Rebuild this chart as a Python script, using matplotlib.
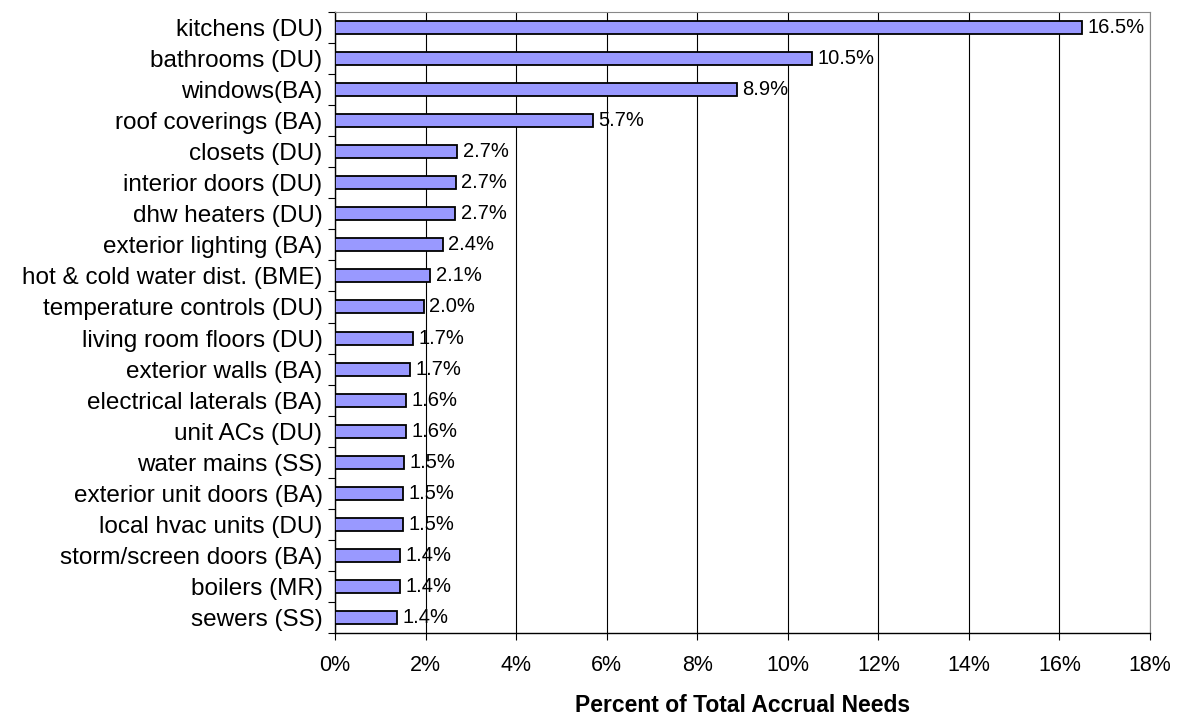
import numpy as np
import matplotlib.pyplot as plt
from matplotlib.ticker import FixedLocator, PercentFormatter

plt.rcParams['font.family'] = ['Liberation Sans', 'DejaVu Sans']

# datos (porcentaje de necesidades)
categorias = ['kitchens (DU)', 'bathrooms (DU)', 'windows(BA)', 'roof coverings (BA)',
              'closets (DU)', 'interior doors (DU)', 'dhw heaters (DU)',
              'exterior lighting (BA)', 'hot & cold water dist. (BME)',
              'temperature controls (DU)', 'living room floors (DU)',
              'exterior walls (BA)', 'electrical laterals (BA)', 'unit ACs (DU)',
              'water mains (SS)', 'exterior unit doors (BA)', 'local hvac units (DU)',
              'storm/screen doors (BA)', 'boilers (MR)', 'sewers (SS)']
valores = [16.5, 10.54, 8.87, 5.70, 2.70, 2.67, 2.66, 2.38, 2.10, 1.96,
           1.73, 1.66, 1.57, 1.56, 1.52, 1.51, 1.51, 1.44, 1.43, 1.36]
etiquetas = ['16.5%', '10.5%', '8.9%', '5.7%', '2.7%', '2.7%', '2.7%', '2.4%', '2.1%', '2.0%',
             '1.7%', '1.7%', '1.6%', '1.6%', '1.5%', '1.5%', '1.5%', '1.4%', '1.4%', '1.4%']

fig = plt.figure(figsize=(11.84, 7.19), dpi=100)
ax = fig.add_axes([335/1184, 1-633/719, 815/1184, 621/719])

y = np.arange(len(categorias))
ax.barh(y, valores, height=0.42, color='#9999FF', edgecolor='black', linewidth=1.3, zorder=3)

for yi, v, t in zip(y, valores, etiquetas):
    ax.annotate(t, (v, yi), xytext=(4, 0), textcoords='offset points',
                va='center', ha='left', fontsize=14.5, zorder=4)

ax.set_ylim(len(categorias) - 0.5, -0.5)
ax.set_yticks(y)
ax.set_yticklabels(categorias, fontsize=17.5)
ax.yaxis.set_minor_locator(FixedLocator(np.arange(-0.5, len(categorias), 1)))
ax.tick_params(axis='y', which='major', length=0, pad=9)
ax.tick_params(axis='y', which='minor', length=5, width=0.8)

ax.set_xlim(0, 18)
ax.set_xticks(np.arange(0, 19, 2))
ax.xaxis.set_major_formatter(PercentFormatter(decimals=0))
ax.tick_params(axis='x', length=5, width=0.8, labelsize=15.5, pad=11)
ax.xaxis.grid(True, color='black', linewidth=0.8, zorder=0)
ax.set_xlabel('Percent of Total Accrual Needs', fontsize=16.5, fontweight='bold', labelpad=13)

for s in ['top', 'right']:
    ax.spines[s].set_color('#888888')
    ax.spines[s].set_linewidth(0.8)
ax.spines['left'].set_linewidth(1.0)
ax.spines['bottom'].set_linewidth(1.0)

plt.savefig('out.png', dpi=100)
